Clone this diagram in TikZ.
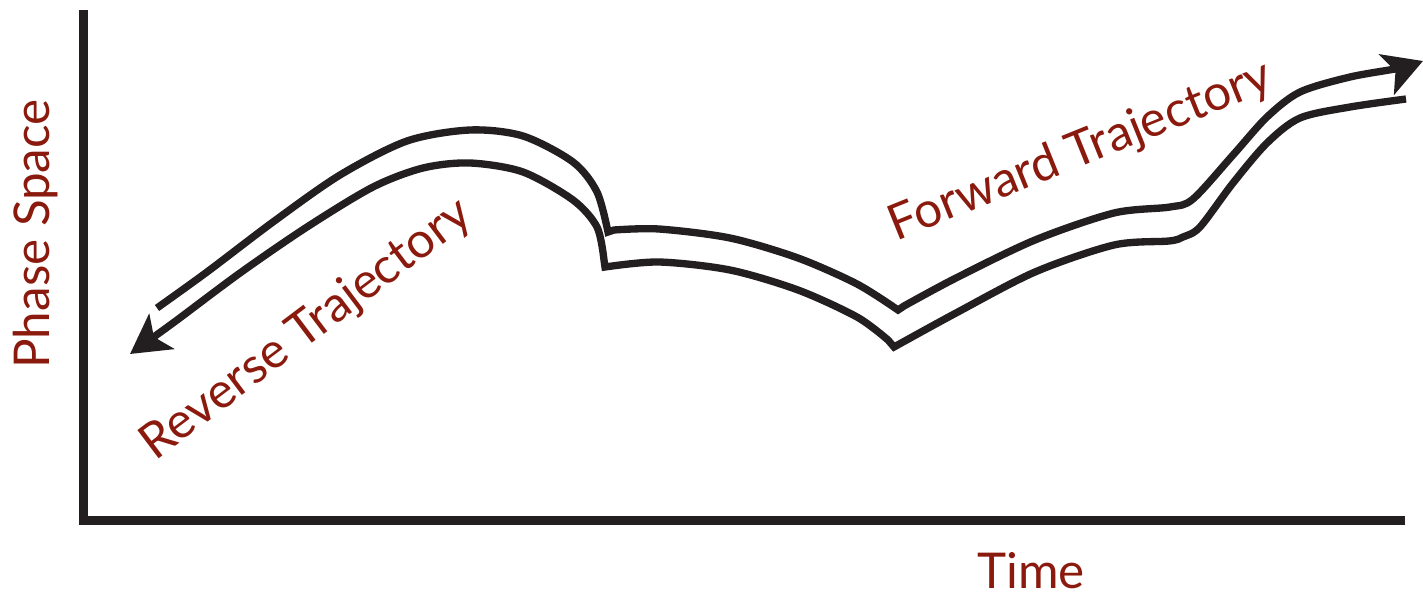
\documentclass[tikz,border=0pt]{standalone}
\usepackage{fontspec}
\setmainfont{Lato}
\usetikzlibrary{arrows.meta}
\definecolor{ink}{HTML}{231F20}
\definecolor{lbl}{HTML}{8B1A0E}
\begin{document}
\begin{tikzpicture}[x=0.75pt,y=-0.75pt,
  axis/.style={line width=6.75pt, draw=ink, line join=miter},
  traj/.style={line width=5.5pt, draw=ink, line join=miter},
  tipped/.style={-{Stealth[length=29pt,width=32pt,inset=7pt]}},
  lab/.style={text=lbl, font=\fontsize{37}{40}\selectfont, inner sep=0pt}]
\useasboundingbox (0,0) rectangle (1423,600);
% axes
\coordinate (ytop) at (83.5,10);
\coordinate (origin) at (83.5,520.5);
\coordinate (xend) at (1405,520.5);
\draw[axis] (ytop) -- (origin) -- (xend);
% forward trajectory
\draw[traj, tipped]
  plot[smooth] coordinates {(157,308) (207,272) (273,222) (340,175) (407,141) (470,130) (523,136) (573,162) (597,192) (608,232)}
  -- plot[smooth] coordinates {(614,230) (659,229) (730,238) (798,258) (857,284) (898,310)}
  -- plot[smooth] coordinates {(904,306) (956,278) (1035,240) (1114,213) (1170,207) (1193,199) (1233,155) (1267,117) (1300,92) (1350,77) (1400,68) (1423,61)};
% reverse trajectory
\draw[traj, tipped]
  plot[smooth] coordinates {(1406,99) (1350,107) (1300,118) (1267,143) (1233,183) (1200,227) (1183,237) (1169,241) (1114,245) (1035,272) (956,313) (894,347)}
  -- plot[smooth] coordinates {(888,340) (857,317) (798,290) (730,270) (659,262) (605,267)}
  -- plot[smooth] coordinates {(604,260) (597,227) (573,200) (523,172) (470,163) (423,168) (373,187) (307,227) (240,273) (173,323) (130,354)};
% labels
\node[lab, rotate=90] (ps) at (36,234) {Phase Space};
\node[lab] (time) at (1031,571) {Time};
\node[lab, rotate=37] (rev) at (307,330) {Reverse Trajectory};
\node[lab, rotate=22] (fwd) at (1081,152) {Forward Trajectory};
\end{tikzpicture}
\end{document}
